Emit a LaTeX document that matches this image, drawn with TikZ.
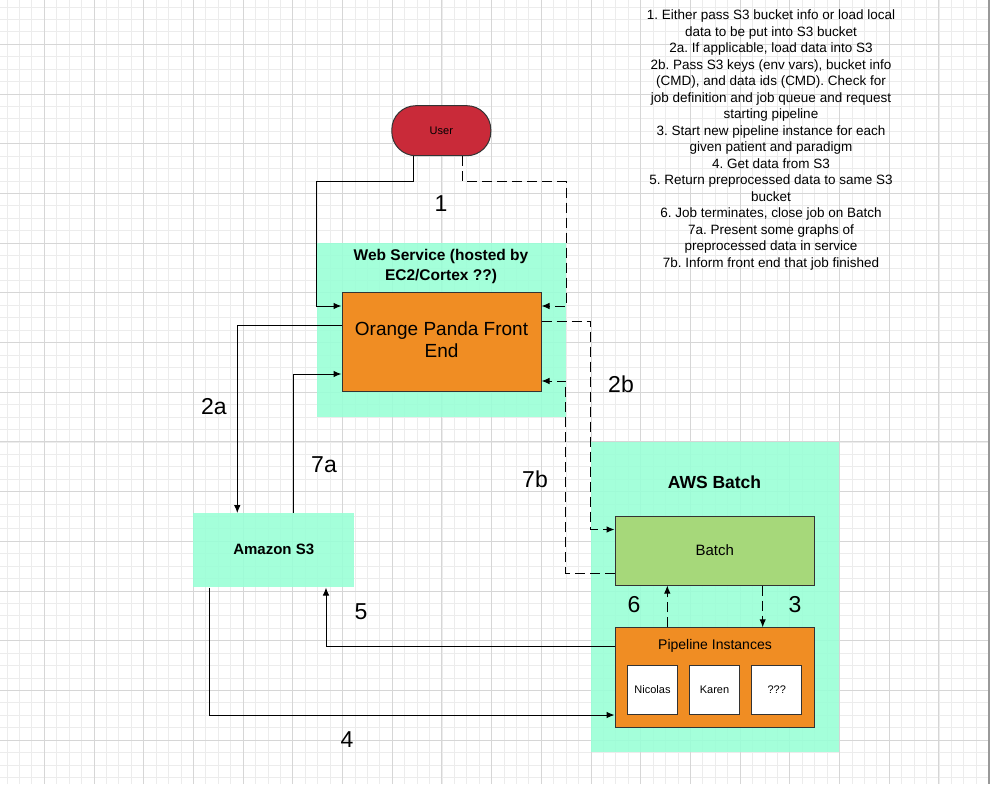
\documentclass[tikz,border=0pt]{standalone}
\usepackage{fontspec}
\setmainfont{Liberation Sans}
\usetikzlibrary{arrows.meta}
\frenchspacing

\definecolor{userred}{RGB}{201,42,57}
\definecolor{pandaorange}{RGB}{240,141,35}
\definecolor{batchgreen}{RGB}{166,216,122}
\definecolor{zoneteal}{RGB}{152,255,214}
\definecolor{gridminor}{RGB}{236,236,236}
\definecolor{gridmajor}{RGB}{214,214,214}

\begin{document}
\begin{tikzpicture}[
  x=1pt, y=-1pt,
  bnode/.style={draw=black!80,line width=1pt,rectangle,inner sep=2pt,align=center},
  znode/.style={fill=zoneteal,fill opacity=0.88,text opacity=1,rectangle,inner sep=0pt,align=center},
  lbl/.style={font=\fontsize{23}{26}\selectfont},
  arr/.style={line width=1pt,-{Latex[length=8pt,width=6.5pt]}},
  darr/.style={arr,dash pattern=on 10pt off 5pt}
]
  \useasboundingbox (0,0) rectangle (990,784);
  \fill[white] (0,0) rectangle (990,784);

  % grid
  \foreach \i in {0,...,79} \draw[gridminor,line width=0.8pt] ({7.03+12.425*\i},0) -- ++(0,784);
  \foreach \i in {0,...,62} \draw[gridminor,line width=0.8pt] (0,{7.03+12.425*\i}) -- ++(990,0);
  \foreach \i in {0,...,19} \draw[gridmajor,line width=0.9pt] ({44.3+49.7*\i},0) -- ++(0,784);
  \foreach \i in {0,...,14} \draw[gridmajor,line width=0.9pt] (0,{44.3+49.7*\i}) -- ++(990,0);
  \fill[black!40] (988,0) rectangle (990,784);

  % zones
  \node[znode,minimum width=249pt,minimum height=173.4pt] (websvc) at (441.2,330) {};
  \node[znode,minimum width=160.7pt,minimum height=74pt,font=\bfseries\fontsize{15}{18}\selectfont] (s3) at (273.7,550.3) {\raisebox{2pt}{Amazon S3}};
  \node[znode,minimum width=248.3pt,minimum height=309.4pt] (awsbatch) at (715.2,597) {};
  \node[font=\bfseries\fontsize{15.5}{20}\selectfont,align=center] (websvctitle) at (441,266) {Web Service (hosted by\\EC2/Cortex ??)};
  \node[font=\bfseries\fontsize{17.5}{20}\selectfont] (awsbatchtitle) at (714.5,482) {AWS Batch};

  % boxes
  \node[bnode,fill=userred,rounded corners=24pt,minimum width=99pt,minimum height=50pt,font=\fontsize{11}{13}\selectfont] (user) at (441.3,130.7) {User};
  \node[bnode,fill=pandaorange,minimum width=199pt,minimum height=98.6pt,font=\fontsize{19}{22.5}\selectfont] (front) at (441.5,342) {\raisebox{2pt}{\begin{tabular}{@{}c@{}}Orange Panda Front\\End\end{tabular}}};
  \node[bnode,fill=batchgreen,minimum width=199.3pt,minimum height=69pt,font=\fontsize{15}{18}\selectfont] (batch) at (714.7,550.5) {Batch};
  \node[bnode,fill=pandaorange,minimum width=199.3pt,minimum height=99.3pt] (pipe) at (714.7,677.4) {};
  \node[font=\fontsize{14}{16}\selectfont] (pipetitle) at (715,645.5) {Pipeline Instances};
  \node[bnode,fill=white,minimum width=49.6pt,minimum height=49.7pt,font=\fontsize{11}{13}\selectfont] (nicolas) at (652.5,689.9) {Nicolas};
  \node[bnode,fill=white,minimum width=49.6pt,minimum height=49.7pt,font=\fontsize{11}{13}\selectfont] (karen) at (714.5,689.9) {Karen};
  \node[bnode,fill=white,minimum width=49.6pt,minimum height=49.7pt,font=\fontsize{11}{13}\selectfont] (unknown) at (776.7,689.9) {???};

  % legend
  \node[align=center,inner sep=0pt,font=\fontsize{13.5}{16.5}\selectfont] (legend) at (771,140) {%
    1. Either pass S3 bucket info or load local\\
    data to be put into S3 bucket\\
    2a. If applicable, load data into S3\\
    2b. Pass S3 keys (env vars), bucket info\\
    (CMD), and data ids (CMD). Check for\\
    job definition and job queue and request\\
    starting pipeline\\
    3. Start new pipeline instance for each\\
    given patient and paradigm\\
    4. Get data from S3\\
    5. Return preprocessed data to same S3\\
    bucket\\
    6. Job terminates, close job on Batch\\
    7a. Present some graphs of\\
    preprocessed data in service\\
    7b. Inform front end that job finished};

  % edges
  \draw[arr] ([xshift=-28pt]user.south) |- ++(-96.6,25) |- ([yshift=36pt]front.west);
  \draw[darr] ([xshift=21pt]user.south) |- ++(103.7,25) |- ([yshift=36pt]front.east);
  \draw[arr] ([yshift=17pt]front.west) -| ([xshift=-36.4pt]s3.north);
  \draw[arr] ([xshift=19.6pt]s3.north) |- ([yshift=-32pt]front.west);
  \draw[darr] ([yshift=21pt]front.east) -| ([yshift=21pt]batch.west -| awsbatch.west) -- ([yshift=21pt]batch.west);
  \draw[darr] ([yshift=-23pt]batch.west) -| ([yshift=-39pt]front.east -| websvc.east) -- ([yshift=-39pt]front.east);
  \draw[darr] ([xshift=-47.4pt]pipe.north) -- ([xshift=-47.4pt]batch.south);
  \draw[darr] ([xshift=48pt]batch.south) -- ([xshift=48pt]pipe.north);
  \draw[arr] ([yshift=31.4pt]pipe.west) -| ([xshift=52.3pt]s3.south);
  \draw[arr] ([xshift=-64.7pt]s3.south) |- ([yshift=-37.6pt]pipe.west);

  % step labels
  \node[lbl] (l1) at (441,204) {1};
  \node[lbl] (l2a) at (214,407) {2a};
  \node[lbl] (l2b) at (621,384) {2b};
  \node[lbl] (l3) at (795,605) {3};
  \node[lbl] (l4) at (347,740) {4};
  \node[lbl] (l5) at (361,612) {5};
  \node[lbl] (l6) at (634,605) {6};
  \node[lbl] (l7a) at (324,465) {7a};
  \node[lbl] (l7b) at (535,479) {7b};
\end{tikzpicture}
\end{document}
